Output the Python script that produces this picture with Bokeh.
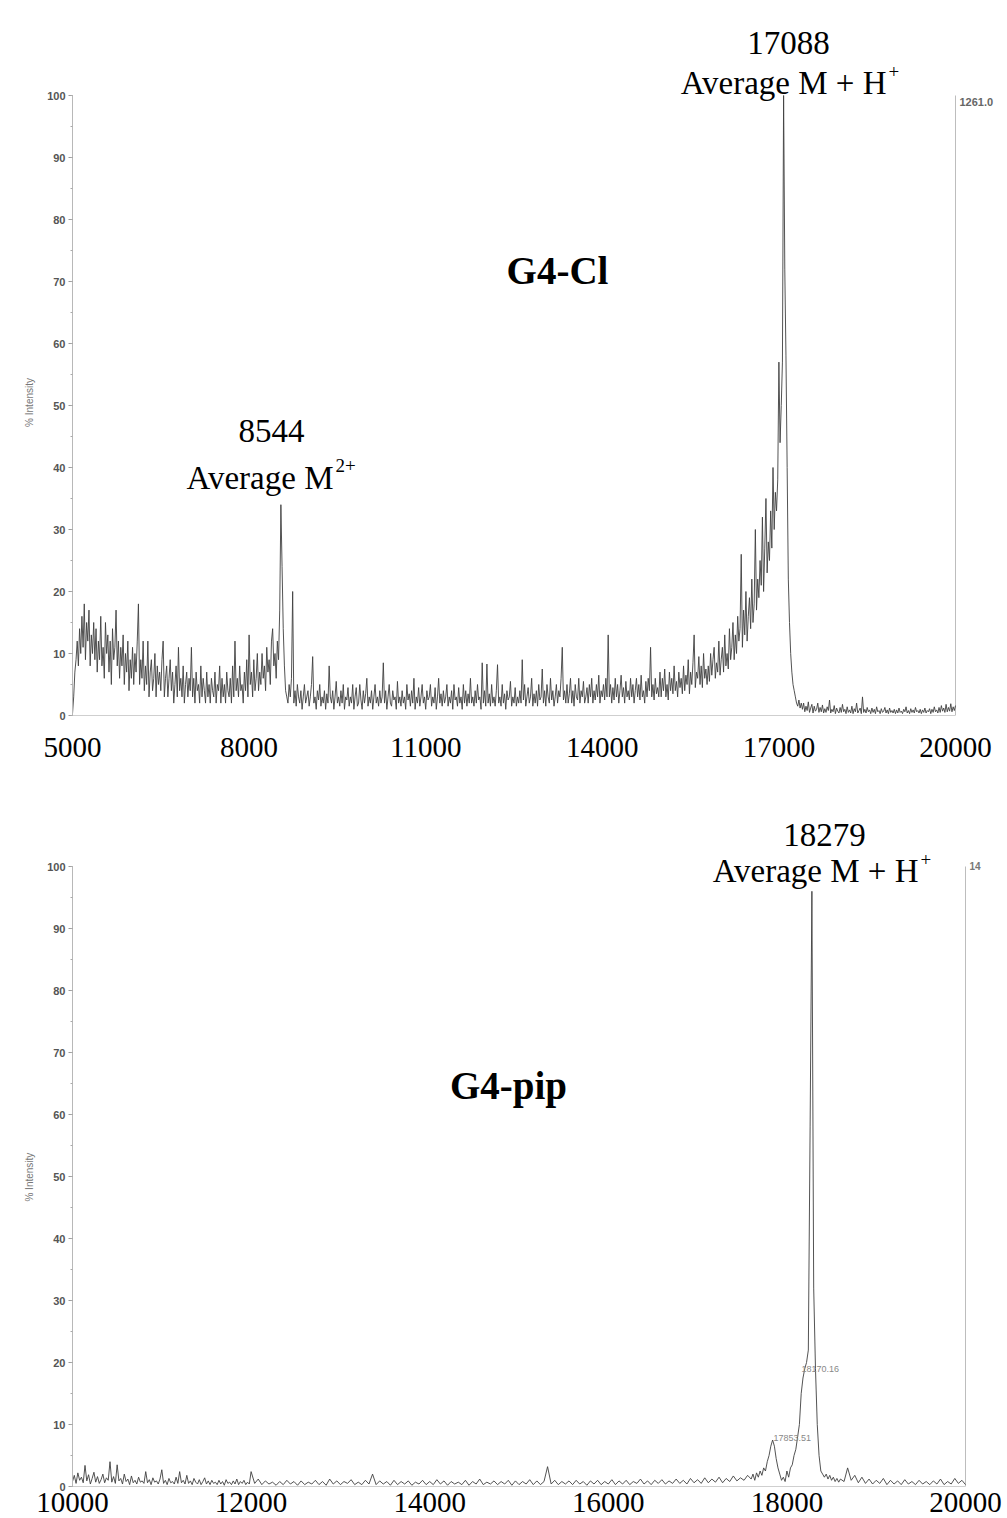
from bokeh.plotting import figure
from bokeh.models import Range1d, Label, FixedTicker, SingleIntervalTicker
from bokeh.layouts import column
from bokeh.embed import file_html
from bokeh.resources import INLINE

# ---------------- data ----------------
# Top spectrum (G4-Cl): one row per 400 Da, points every 20 Da, rows start at 5000
top_row_start = 5000
top_row_span = 400
top_step = 20
top_rows = [
    [0.3, 3, 7, 9, 12, 8, 14, 10, 16, 11, 18, 9, 15, 12, 17, 8, 13, 10, 15, 9],               # 5000
    [14, 7, 12, 9, 16, 8, 11, 6, 15, 10, 13, 7, 12, 5, 14, 9, 11, 17, 8, 12],                 # 5400
    [6, 11, 8, 13, 5, 10, 7, 12, 4, 9, 6, 11, 5, 10, 7, 12, 18, 5, 9, 6],                     # 5800
    [12, 4, 8, 5, 12, 3, 7, 9, 4, 6, 10, 3, 8, 5, 7, 4, 9, 12, 3, 6],                         # 6200
    [8, 3, 6, 9, 4, 7, 2, 5, 8, 3, 11, 4, 6, 3, 8, 2, 5, 7, 3, 6],                            # 6600
    [4, 11, 3, 6, 2, 7, 4, 5, 2, 8, 3, 6, 4, 2, 7, 3, 5, 2, 6, 4],                            # 7000
    [3, 7, 2, 5, 4, 8, 2, 6, 3, 5, 2, 7, 4, 3, 6, 2, 8, 3, 12, 4],                            # 7400
    [6, 3, 8, 4, 5, 2, 7, 4, 9, 3, 13, 5, 7, 3, 9, 4, 6, 10, 4, 7],                           # 7800
    [5, 10, 6, 8, 4, 11, 7, 9, 5, 12, 14, 8, 10, 6, 12, 9, 17, 34, 24, 14],                   # 8200
    [8, 4, 3, 2, 5, 3, 6, 20, 2, 4, 1.5, 5, 3, 2, 4, 1, 3, 5, 2, 3],                          # 8600
    [4, 1.5, 3, 5, 9.5, 2, 3, 1, 4, 2.5, 5, 1.5, 3, 2, 4, 1, 3.5, 2, 8, 3],                   # 9000
    [2, 4, 1, 3, 5.5, 2, 3, 1.5, 4, 2, 5, 1, 3, 2.5, 4.5, 1.5, 3, 2, 5, 1],                   # 9400
    [3, 4.5, 1.5, 2, 5, 2.5, 1, 4, 2, 3.5, 6, 1.5, 3, 2, 4, 1, 3, 5, 2, 3],                   # 9800
    [1.5, 4, 2, 3, 8.5, 2, 4, 1, 3, 5, 2, 1.5, 4, 2.5, 3, 1, 5.5, 2, 3, 1.5],                 # 10200
    [4, 2, 3, 1, 5, 2.5, 3.5, 1.5, 4, 2, 6, 1, 3, 2, 4.5, 1.5, 3, 5, 2, 3],                   # 10600
    [1, 4, 2.5, 3, 5, 1.5, 3, 2, 4.5, 1, 3, 6, 2, 3.5, 1.5, 4, 2, 3, 5, 1.5],                 # 11000
    [3, 2, 4, 1, 5, 2.5, 3, 1.5, 4.5, 2, 3, 1, 5, 2, 4, 1.5, 3.5, 2, 6, 2],                   # 11400
    [3, 1.5, 4, 2, 5, 2.5, 3, 1, 8.5, 2, 4, 1.5, 8.3, 2, 3.5, 1.5, 5, 2, 3, 1.5],             # 11800
    [4, 8.2, 2, 3, 1.5, 5, 2, 3.5, 1, 4, 2.5, 3, 5.5, 1.5, 3, 2, 4.5, 1.5, 3, 2],             # 12200
    [4, 2, 9, 2.5, 5, 1.5, 3, 4.5, 2, 3, 6, 1.5, 3.5, 2, 4, 1.5, 5, 2.5, 3, 7.5],             # 12600
    [2, 4, 1.5, 5, 3, 2, 6, 2.5, 4, 1.5, 3, 5, 2, 4, 3, 6, 11, 2.5, 4, 2],                    # 13000
    [5, 2, 3.5, 6, 2, 4, 1.5, 5, 3, 2.5, 6, 2, 4, 3, 5.5, 2, 3, 4.5, 2, 5],                   # 13400
    [3, 6, 2, 4, 2.5, 5, 3, 6.5, 2, 4, 3, 5, 2.5, 6, 3, 13, 3, 5, 2, 4.5],                    # 13800
    [2.5, 6, 3, 5, 2, 4, 6.5, 3, 4.5, 2, 5.5, 3, 4, 2.5, 6, 3, 5, 2, 4, 6],                   # 14200
    [3, 5, 2.5, 6.5, 3, 4, 2, 5.5, 3, 6, 4, 11, 3, 5, 2.5, 6, 3.5, 4.5, 3, 7],                # 14600
    [3, 6, 4, 7.5, 3, 5, 2.5, 7, 4, 6, 3.5, 8, 4, 5.5, 3, 7, 4.5, 6, 3.5, 8],                 # 15000
    [4, 6.5, 5, 9, 3.5, 7, 5, 8.5, 13, 4.5, 7, 6, 9.5, 5, 8, 4.5, 10, 6, 7.5, 5],             # 15400
    [8, 5.5, 10, 6.5, 9, 11, 6, 8.5, 7, 12, 6.5, 9, 11, 7, 13, 8, 10, 7.5, 14, 9],            # 15800
    [11, 15, 9, 13, 10, 16, 12, 14, 26, 11, 17, 13, 20, 12, 16, 19, 14, 22, 15, 18],          # 16200
    [30, 17, 22, 19, 25, 21, 32, 20, 27, 35, 23, 28, 25, 33, 27, 40, 30, 36, 33, 38],         # 16600
    [57, 44, 50, 57, 100, 72, 58, 40, 22, 15, 10, 7, 5, 4, 3, 2, 1.5, 2.5, 1.2, 2],           # 17000
    [1, 2, 0.6, 1.5, 0.8, 2.2, 0.5, 1.2, 1.8, 0.4, 1.5, 0.7, 1.0, 2.0, 0.5, 1.3, 0.6, 1.7, 0.4, 1.1],  # 17400
    [0.5, 1.4, 0.8, 2.5, 0.4, 1.0, 0.6, 1.6, 0.3, 1.2, 0.7, 0.4, 1.3, 0.5, 1.8, 0.6, 1.0, 0.3, 1.4, 0.5],  # 17800
    [0.9, 0.4, 1.5, 0.3, 1.1, 0.6, 2.0, 0.4, 0.8, 1.2, 0.3, 3.0, 0.5, 1.0, 0.4, 1.3, 0.6, 0.9, 0.3, 1.2],  # 18200
    [0.5, 1.0, 0.3, 1.4, 0.6, 0.8, 0.3, 1.1, 0.5, 0.7, 1.3, 0.4, 0.9, 0.3, 1.2, 0.5, 0.8, 0.4, 1.0, 0.3],  # 18600
    [0.9, 0.4, 1.2, 0.5, 0.7, 0.3, 1.0, 0.6, 1.4, 0.4, 0.8, 0.3, 1.1, 0.5, 0.9, 0.4, 1.3, 0.6, 0.8, 0.4],  # 19000
    [1.0, 0.3, 0.9, 0.5, 1.2, 0.4, 0.8, 0.6, 1.1, 0.3, 1.0, 0.5, 1.4, 0.6, 0.9, 0.4, 1.3, 0.5, 1.6, 0.7],  # 19400
    [1.2, 0.5, 1.8, 0.6, 1.3, 0.7, 1.9, 0.6, 1.4, 0.8, 1.6],                                  # 19800
]

# Bottom spectrum (G4-pip)
bot_fine_start, bot_fine_step = 10000, 20      # rows of 400 Da
bot_fine_rows = [
    [0.8, 1.8, 0.5, 2.2, 1.0, 1.5, 0.6, 3.4, 0.9, 1.9, 0.4, 1.3, 2.3, 0.7, 1.6, 0.5, 1.1, 2.0, 0.6, 1.4],  # 10000
    [1.0, 4.0, 0.7, 1.6, 0.5, 3.5, 0.9, 1.3, 0.4, 2.0, 0.8, 1.2, 0.3, 1.7, 0.6, 1.0, 0.4, 1.5, 0.7, 0.9],  # 10400
    [0.5, 2.4, 0.6, 1.1, 0.3, 1.4, 0.7, 0.9, 0.4, 1.2, 2.7, 0.5, 1.0, 0.3, 1.3, 0.6, 0.8, 0.4, 1.5, 0.5],  # 10800
    [2.4, 0.6, 1.0, 0.4, 1.8, 0.5, 0.9, 0.3, 1.3, 0.7, 0.4, 1.1, 0.3, 0.8, 1.4, 0.4, 0.9, 0.3, 1.0, 0.5],  # 11200
    [0.7, 0.3, 1.0, 0.4, 0.8, 0.2, 1.1, 0.5, 0.7, 0.3, 0.9, 0.4, 1.2, 0.3, 0.8, 0.5, 1.0, 0.3, 0.7, 0.4],  # 11600
]
bot_coarse_start, bot_coarse_step = 12000, 40  # rows of 400 Da
bot_coarse_rows = [
    [2.4, 0.5, 1.2, 0.3, 0.9, 0.4, 0.7, 0.2, 0.8, 0.3],   # 12000
    [1.0, 0.4, 0.8, 0.2, 0.9, 0.3, 0.7, 0.4, 1.0, 0.3],   # 12400
    [0.8, 0.2, 1.2, 0.4, 0.9, 0.3, 0.8, 0.5, 1.1, 0.3],   # 12800
    [0.7, 0.3, 1.0, 0.4, 2.0, 0.3, 0.9, 0.4, 0.8, 0.2],   # 13200
    [1.0, 0.3, 0.8, 0.4, 0.9, 0.2, 0.7, 0.4, 1.0, 0.3],   # 13600
    [0.8, 0.3, 1.1, 0.4, 0.9, 0.2, 0.8, 0.4, 0.7, 0.3],   # 14000
    [1.0, 0.2, 0.8, 0.4, 1.2, 0.3, 0.7, 0.4, 0.9, 0.3],   # 14400
    [0.8, 0.4, 1.0, 0.2, 0.9, 0.3, 0.8, 0.4, 1.1, 0.3],   # 14800
    [0.9, 0.3, 0.8, 3.2, 0.4, 1.0, 0.3, 0.8, 0.4, 0.9],   # 15200
    [0.3, 1.0, 0.4, 0.8, 0.2, 0.9, 0.4, 1.0, 0.3, 0.8],   # 15600
    [0.4, 1.1, 0.3, 0.9, 0.4, 1.0, 0.3, 0.8, 0.5, 1.2],   # 16000
    [0.4, 0.9, 0.3, 1.0, 0.5, 1.1, 0.4, 0.9, 0.5, 1.2],   # 16400
    [0.5, 1.0, 0.4, 1.3, 0.6, 1.1, 0.5, 1.4, 0.6, 1.2],   # 16800
    [0.7, 1.5, 0.6, 1.3, 0.8, 1.7, 0.9, 1.4, 1.0, 1.8],   # 17200
]
bot_peak_start, bot_peak_step = 17600, 20
bot_peak = [
    1.2, 2.0, 1.0, 2.2, 1.5,        # 17600
    2.5, 1.8, 3.0, 2.5, 4.0,        # 17700
    5.0, 6.5, 7.5, 6.5, 4.5,        # 17800
    3.0, 2.0, 1.0, 1.5, 0.8,        # 17900
    2.5, 1.5, 3.0, 3.5, 5.0,        # 18000
    6.0, 8.0, 10.0, 15.0, 17.5,     # 18100
    19.0, 20.0, 22.0, 58.0, 96.0,   # 18200
    32.0, 19.0, 10.0, 5.0, 2.5,     # 18300
    2.0, 1.5, 2.0, 1.2, 1.8,        # 18400
    1.0, 1.5, 0.8, 1.3, 0.7,        # 18500
    1.2,                            # 18600
]
bot_tail_start, bot_tail_step = 18640, 40
bot_tail = [
    0.8, 3.0, 1.0, 1.8, 0.6, 1.5, 0.5, 1.2, 0.4, 1.0,   # 18640
    0.5, 1.3, 0.3, 1.0, 0.4, 0.9, 0.3, 1.1, 0.4, 0.8,   # 19040
    0.3, 1.0, 0.4, 0.8, 0.3, 0.9, 0.4, 1.2, 0.3, 0.8,   # 19440
    0.4, 1.3, 0.5, 1.0, 0.3,                            # 19840
]

top_ticks = [5000, 8000, 11000, 14000, 17000, 20000]
bot_ticks = [10000, 12000, 14000, 16000, 18000, 20000]
top_xlim = (5000, 20000)
bot_xlim = (10000, 20000)
ylim = (0, 100)

# assemble the (m/z, intensity) series from the rows
top_mz, top_int = [], []
for k, row in enumerate(top_rows):
    for j, v in enumerate(row):
        top_mz.append(top_row_start + top_row_span * k + top_step * j)
        top_int.append(v)

bot_mz, bot_int = [], []
for k, row in enumerate(bot_fine_rows):
    for j, v in enumerate(row):
        bot_mz.append(bot_fine_start + 400 * k + bot_fine_step * j)
        bot_int.append(v)
for k, row in enumerate(bot_coarse_rows):
    for j, v in enumerate(row):
        bot_mz.append(bot_coarse_start + 400 * k + bot_coarse_step * j)
        bot_int.append(v)
for j, v in enumerate(bot_peak):
    bot_mz.append(bot_peak_start + bot_peak_step * j)
    bot_int.append(v)
for j, v in enumerate(bot_tail):
    bot_mz.append(bot_tail_start + bot_tail_step * j)
    bot_int.append(v)

# ---------------- layout ----------------
W = 1007
H1, H2 = 770, 748
SERIF = "Liberation Serif"
SANS = "Liberation Sans"
PX_PER_UNIT = 6.2
TRACE_COLOR = "#404040"
YLABEL_SIZE = 10

# top panel geometry (page pixels)
T_LEFT, T_RIGHT, T_ZERO = 72, 955, 715
# bottom panel geometry (page pixels)
B_LEFT, B_RIGHT, B_ZERO = 72, 965, 1486


def ylabel_text(shift_px):
    # the axis label is centred on the whole frame; pad its end with
    # no-break spaces so that the visible words sit centred on the 0..100 axis
    n = int(round(2 * shift_px / (0.278 * YLABEL_SIZE)))
    return "% Intensity" + "\u00a0" * n


def style(p, ticks, xlim, x_standoff, ylabel_shift):
    p.background_fill_color = "white"
    p.border_fill_color = "white"
    p.outline_line_color = None
    p.grid.visible = False
    xa = p.xaxis[0]
    xa.ticker = FixedTicker(ticks=ticks)
    xa.bounds = xlim
    xa.axis_line_color = "#cfcfcf"
    xa.major_tick_line_color = None
    xa.minor_tick_line_color = None
    xa.major_label_text_font = SERIF
    xa.major_label_text_font_size = "29px"
    xa.major_label_text_color = "black"
    xa.major_label_standoff = x_standoff
    ya = p.yaxis[0]
    ya.ticker = SingleIntervalTicker(interval=10, num_minor_ticks=2)
    ya.bounds = ylim
    ya.axis_line_color = "#b8b8b8"
    ya.major_tick_line_color = "#999999"
    ya.minor_tick_line_color = "#aaaaaa"
    ya.major_tick_out = 4
    ya.major_tick_in = 0
    ya.minor_tick_out = 2
    ya.minor_tick_in = 0
    ya.major_label_text_font = SANS
    ya.major_label_text_font_style = "bold"
    ya.major_label_text_font_size = "11px"
    ya.major_label_text_color = "#555555"
    ya.major_label_standoff = 3
    ya.axis_label = ylabel_text(ylabel_shift)
    ya.axis_label_text_font = SANS
    ya.axis_label_text_font_style = "normal"
    ya.axis_label_text_font_size = "%dpx" % YLABEL_SIZE
    ya.axis_label_text_color = "#777777"
    ya.axis_label_standoff = 9
    # right frame line of the instrument plot at the end of the m/z range
    p.segment(x0=[xlim[1]], y0=[ylim[0]], x1=[xlim[1]], y1=[ylim[1]],
              line_color="#bdbdbd", line_width=1)


def lab(p, x, y, text, size, align="center", baseline="alphabetic", font=SERIF,
        style_="normal", color="black"):
    p.add_layout(Label(x=x, y=y, text=text, text_font=font, text_font_size=size,
                       text_align=align, text_baseline=baseline,
                       text_font_style=style_, text_color=color))


# ---- top panel ----
t_scale = (top_xlim[1] - top_xlim[0]) / (T_RIGHT - T_LEFT)


def tx(px):
    return top_xlim[0] + (px - T_LEFT) * t_scale


def ty(py):
    return (T_ZERO - py) / PX_PER_UNIT


p1 = figure(width=W, height=H1,
            x_range=Range1d(top_xlim[0], tx(W)), y_range=Range1d(0, ty(0)),
            output_backend="svg", toolbar_location=None,
            min_border_left=T_LEFT, min_border_right=0,
            min_border_top=0, min_border_bottom=H1 - T_ZERO)
style(p1, top_ticks, top_xlim, 16, ylabel_shift=402 - T_ZERO / 2)
p1.line(top_mz, top_int, line_color=TRACE_COLOR, line_width=0.9)

lab(p1, tx(788), ty(42), "17088", "33px")
lab(p1, tx(886), ty(82), "Average M + H", "33px", align="right")
lab(p1, tx(888), ty(71), "+", "19px", align="left")
lab(p1, tx(271), ty(430), "8544", "33px")
lab(p1, tx(333), ty(477), "Average M", "33px", align="right")
lab(p1, tx(335), ty(465), "2+", "19px", align="left")
lab(p1, tx(557), ty(270), "G4-Cl", "39px", baseline="middle", style_="bold")
lab(p1, tx(959), ty(101), "1261.0", "11px", align="left", baseline="middle",
    font=SANS, style_="bold", color="#666666")

# ---- bottom panel ----
b_scale = (bot_xlim[1] - bot_xlim[0]) / (B_RIGHT - B_LEFT)


def bx(px):
    return bot_xlim[0] + (px - B_LEFT) * b_scale


def by(py):
    return (B_ZERO - py) / PX_PER_UNIT


p2 = figure(width=W, height=H2,
            x_range=Range1d(bot_xlim[0], bx(W)), y_range=Range1d(0, by(H1)),
            output_backend="svg", toolbar_location=None,
            min_border_left=B_LEFT, min_border_right=0,
            min_border_top=0, min_border_bottom=H1 + H2 - B_ZERO)
style(p2, bot_ticks, bot_xlim, 0, ylabel_shift=1176 - (H1 + B_ZERO) / 2)
p2.line(bot_mz, bot_int, line_color=TRACE_COLOR, line_width=0.9)

lab(p2, bx(824), by(834), "18279", "33px")
lab(p2, bx(918), by(870), "Average M + H", "33px", align="right")
lab(p2, bx(920), by(859), "+", "19px", align="left")
lab(p2, bx(508), by(1085), "G4-pip", "39px", baseline="middle", style_="bold")
lab(p2, bx(801), by(1368), "18170.16", "9px", align="left", baseline="middle",
    font=SANS, color="#888888")
lab(p2, bx(773), by(1437), "17853.51", "9px", align="left", baseline="middle",
    font=SANS, color="#888888")
lab(p2, bx(969), by(865), "14", "10px", align="left", baseline="middle",
    font=SANS, style_="bold", color="#777777")

layout = column(p1, p2, spacing=0)
open("out.html", "w").write(file_html(layout, INLINE))
